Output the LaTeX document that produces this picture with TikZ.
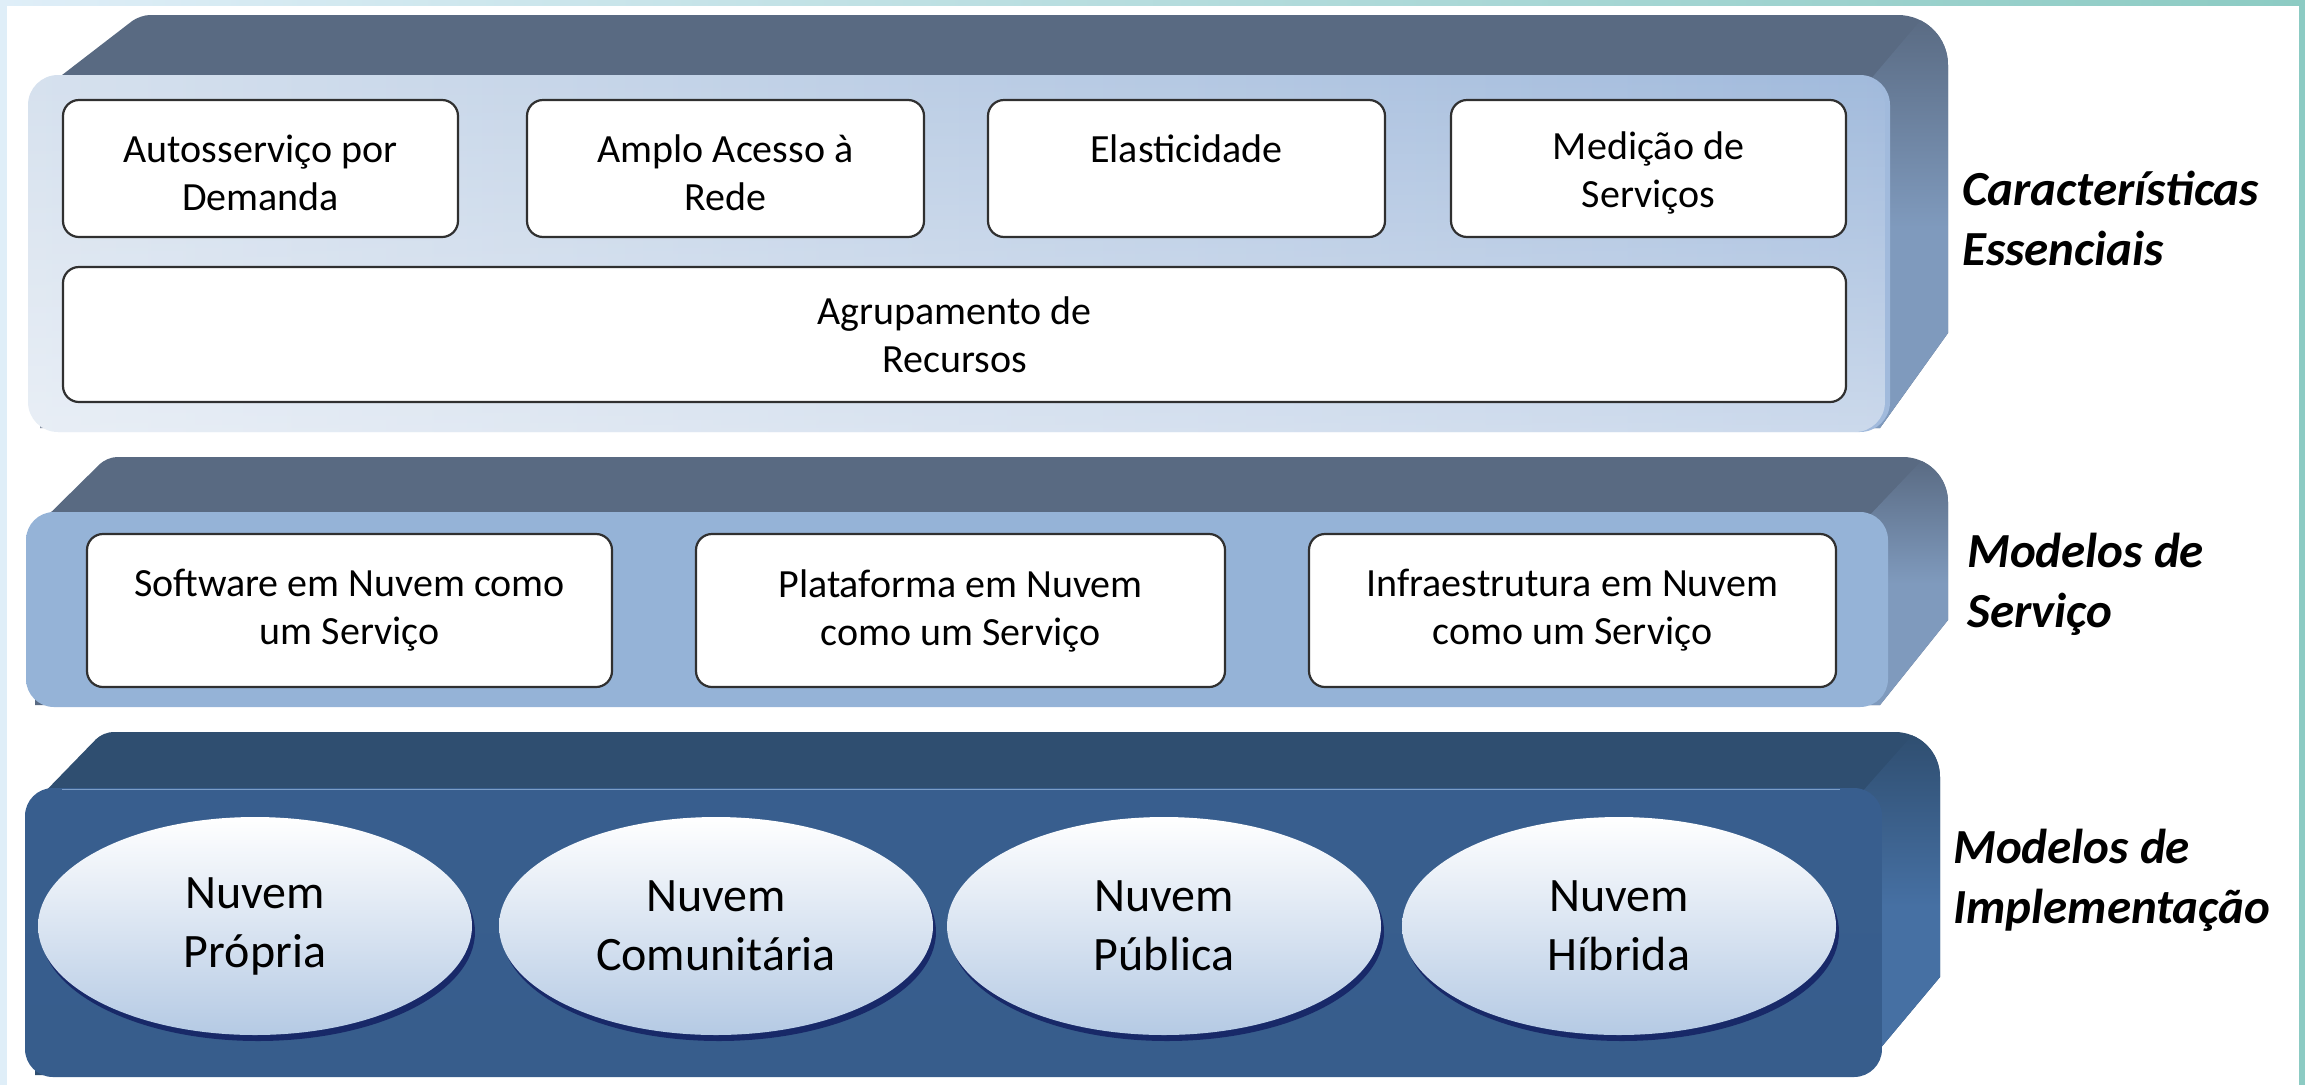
\documentclass[tikz,border=0pt]{standalone}
\usepackage{fontspec}
\setmainfont{Carlito}
\usetikzlibrary{shapes.geometric,shadows,fadings}
\definecolor{frameL}{HTML}{DFEEF8}
\definecolor{frameR}{HTML}{8CCBC3}
\definecolor{slateTop}{HTML}{596A82}
\definecolor{slateSide}{HTML}{7F9ABD}
\definecolor{navyTop}{HTML}{2F4E70}
\definecolor{navySide}{HTML}{4670A3}
\definecolor{frontAL}{HTML}{D6E1EE}
\definecolor{frontAR}{HTML}{A1BADC}
\definecolor{frontBT}{HTML}{95B3D7}
\definecolor{frontBM}{HTML}{4F81BD}
\definecolor{frontCT}{HTML}{385E8E}
\definecolor{frontCM}{HTML}{416CA5}
\definecolor{frontCB}{HTML}{375D8C}
\definecolor{ellB}{HTML}{B5CAE4}
\definecolor{boxline}{HTML}{303030}
\tikzset{
  boxnode/.style={draw=boxline, line width=2.2pt, fill=white, rounded corners=16pt,
    align=center, inner sep=0pt, font=\fontsize{40}{48}\selectfont},
  cloudnode/.style={ellipse, minimum width=434pt, minimum height=218pt, inner sep=0pt,
    top color=white, bottom color=ellB, align=center,
    font=\fontsize{48}{59}\selectfont,
    drop shadow={shadow xshift=3pt, shadow yshift=-6pt, fill=black!70!blue, opacity=0.55}},
  layerlbl/.style={font=\fontsize{49}{60}\selectfont\bfseries\itshape, align=left,
    anchor=base west, inner sep=0pt}
}
\begin{document}
\begin{tikzpicture}[x=1pt,y=-1pt]
\useasboundingbox (0,0) rectangle (2305,1085);
% frame
\fill[frameL] (0,0) rectangle (7,1085);
\shade[left color=frameL, right color=frameR] (0,0) rectangle (2305,5);
\fill[frameR] (2299,0) rectangle (2305,1085);

% ---------- slab 1 ----------
\begin{scope}
\path[clip] (40,92) [rounded corners=10pt]-- (140,15) [rounded corners=50pt]-- (1948,15) [sharp corners]-- (1948,333) -- (1880,428) -- (40,428) -- cycle;
\fill[slateTop] (0,0) rectangle (2000,440);
\shade[top color=slateTop, bottom color=slateSide, middle color=slateSide] (1870,80) -- (1925,15) -- (1960,15) -- (1960,440) -- (1870,440) -- cycle;
\end{scope}
\shade[rounded corners=30pt, left color=frontAL, right color=frontAR] (28,75) rectangle (1890,432);
\fill[white, rounded corners=30pt, path fading=north, fill opacity=0.45] (28,75) rectangle (1890,432);

\node[boxnode, minimum width=395pt, minimum height=137pt] (auto) at (260.5,168.5) {\rule{0pt}{36pt}Autosserviço por\\Demanda};
\node[boxnode, minimum width=397pt, minimum height=137pt] (amplo) at (725.5,168.5) {\rule{0pt}{36pt}Amplo Acesso à\\Rede};
\node[boxnode, minimum width=397pt, minimum height=137pt] (elast) at (1186.5,168.5) {\rule{0pt}{36pt}Elasticidade\\\mbox{}};
\node[boxnode, minimum width=395pt, minimum height=137pt] (medic) at (1648.5,168.5) {\rule{0pt}{36pt}Medição de\\Serviços};
\node[boxnode, minimum width=1783pt, minimum height=135pt] (agrup) at (954.5,334.5) {Agrupamento de\\Recursos};
\node[layerlbl] (lbl1) at (1962,265) {Características\\Essenciais};

% ---------- slab 2 ----------
\begin{scope}
\path[clip] (35,528) [rounded corners=10pt]-- (107,457) [rounded corners=45pt]-- (1948,457) [sharp corners]-- (1948,620) -- (1880,705) -- (35,705) -- cycle;
\fill[slateTop] (0,440) rectangle (2000,720);
\shade[top color=slateTop, bottom color=slateSide, middle color=slateSide] (1868,517) -- (1925,457) -- (1960,457) -- (1960,710) -- (1868,710) -- cycle;
\end{scope}
\shade[rounded corners=28pt, top color=frontBT, middle color=frontBM, bottom color=frontBT] (26,512) rectangle (1888,707);

\node[boxnode, minimum width=525pt, minimum height=153pt] (saas) at (349.5,610.5) {Software em Nuvem como\\um Serviço};
\node[boxnode, minimum width=529pt, minimum height=153pt] (paas) at (960.5,610.5) {Plataforma em Nuvem\\como um Serviço};
\node[boxnode, minimum width=527pt, minimum height=153pt] (iaas) at (1572.5,610.5) {Infraestrutura em Nuvem\\como um Serviço};
\node[layerlbl] (lbl2) at (1967,627) {Modelos de\\Serviço};

% ---------- slab 3 ----------
\begin{scope}
\path[clip] (35,802) [rounded corners=10pt]-- (103,732) [rounded corners=45pt]-- (1940,732) [sharp corners]-- (1940,977) -- (1858,1075) -- (35,1075) -- cycle;
\fill[navyTop] (0,720) rectangle (2000,1085);
\shade[top color=navyTop, bottom color=navySide, middle color=navySide] (1862,792) -- (1915,732) -- (1950,732) -- (1950,1080) -- (1862,1080) -- cycle;
\end{scope}
\shade[rounded corners=28pt, top color=frontCT, middle color=frontCM, bottom color=frontCB] (25,788) rectangle (1882,1077);
\draw[line width=1.5pt, color=frontBT!70!frontCM] (62,789.5) -- (1840,789.5);

\node[cloudnode] (propria) at (255,926) {Nuvem\\Própria};
\node[cloudnode] (comun) at (716,926) {Nuvem\\Comunitária};
\node[cloudnode] (publica) at (1164,926) {Nuvem\\Pública};
\node[cloudnode] (hibrida) at (1619,926) {Nuvem\\Híbrida};
\node[layerlbl] (lbl3) at (1953,923) {Modelos de\\Implementação};
\end{tikzpicture}
\end{document}
